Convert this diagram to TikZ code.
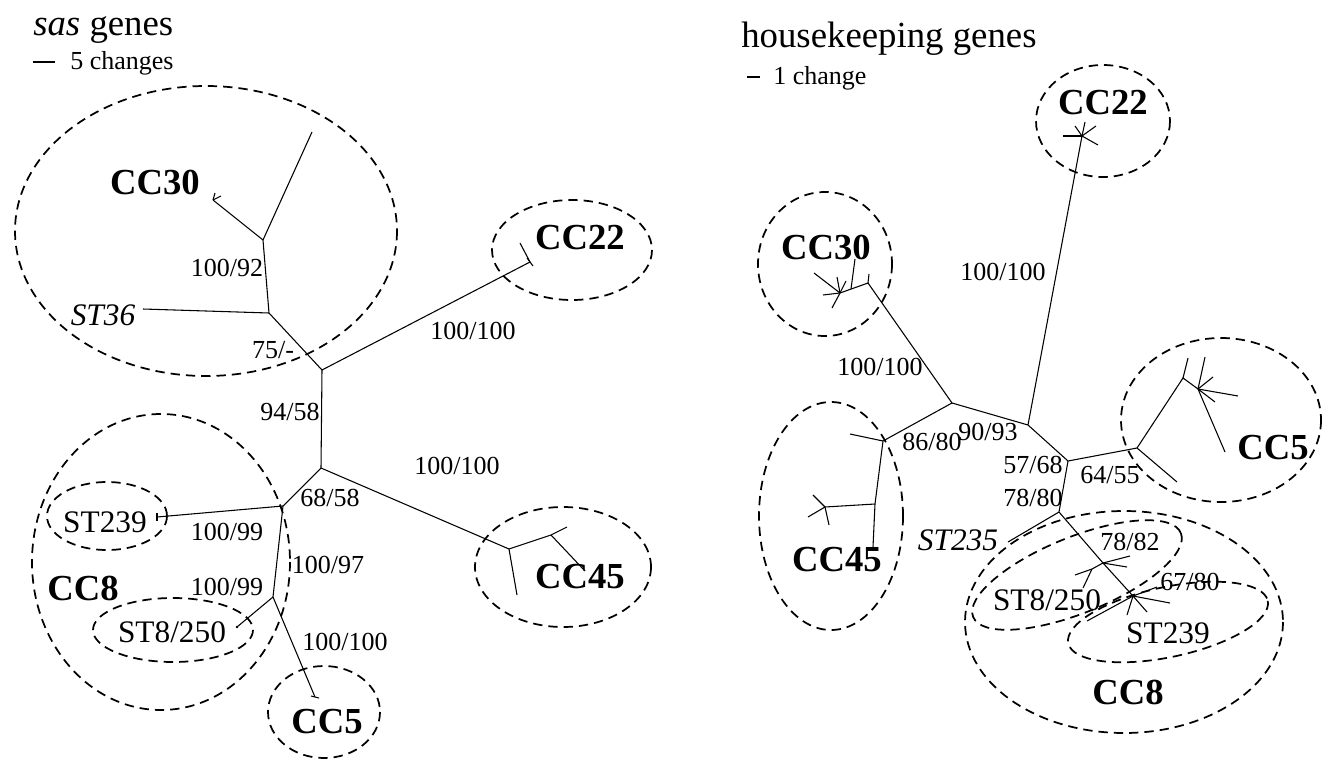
\documentclass[tikz,border=0pt]{standalone}
\usepackage{fontspec}
\setmainfont{Liberation Serif}
\begin{document}
\begin{tikzpicture}[x=0.75pt,y=-0.75pt,
  br/.style={line width=0.8pt},
  grp/.style={line width=1.3pt, dash pattern=on 7pt off 4.5pt},
  lab/.style={font=\fontsize{19.5}{19.5}\selectfont, inner sep=0},
  stl/.style={font=\fontsize{23.5}{23.5}\selectfont, inner sep=0},
  cc/.style={font=\fontsize{27.5}{27.5}\selectfont\bfseries, inner sep=0},
  ttl/.style={font=\fontsize{27.6}{27.6}\selectfont, inner sep=0, anchor=base west},
  sc/.style={font=\fontsize{19.5}{19.5}\selectfont, inner sep=0, anchor=base west}]
\useasboundingbox (0,0) rectangle (1324,760);

% ---------------- titles ----------------
\node[ttl] (t1) at (33,35) {\textit{sas} genes};
\coordinate (s1a) at (33,62); \coordinate (s1b) at (55,62);
\draw[line width=0.9pt] (s1a) -- (s1b);
\node[sc] (t1s) at (70,69) {5 changes};
\node[ttl] (t2) at (741,47) {housekeeping genes};
\coordinate (s2a) at (747,77); \coordinate (s2b) at (760,77);
\draw[line width=0.9pt] (s2a) -- (s2b);
\node[sc] (t2s) at (773,84) {1 change};

% ---------------- left tree ----------------
\coordinate (lC) at (322,370);
\coordinate (lB) at (269,313);
\coordinate (lA) at (263,240);
\coordinate (lA1) at (312,132);
\coordinate (l30) at (213,200);
\coordinate (l36) at (143,309);
\coordinate (l22) at (530,262);
\coordinate (l22t) at (520,243);
\coordinate (lD) at (321,468);
\coordinate (lE) at (283,506);
\coordinate (l239) at (157,517);
\coordinate (lF) at (273,597);
\coordinate (l8) at (237,627);
\coordinate (l5) at (315,697);
\coordinate (lG) at (509,549);
\coordinate (lG1) at (517,595);
\coordinate (lH) at (551,535);
\coordinate (lH1) at (567,527);
\coordinate (lH2) at (585,571);

\draw[br] (lA1) -- (lA) -- (lB) -- (lC) -- (l22) -- (l22t);
\draw[br] (lA) -- (l30);
\draw[br] (lB) -- (l36);
\draw[br] (lC) -- (lD) -- (lE) -- (lF) -- (l5);
\draw[br] (lE) -- (l239);
\draw[br] (lF) -- (l8);
\draw[br] (lD) -- (lG) -- (lG1);
\draw[br] (lG) -- (lH) -- (lH1);
\draw[br] (lH) -- (lH2);
% tiny tips
\draw[br] (l30) -- ++(2,-7);
\draw[br] (l30) -- ++(8,-4);
\draw[br] (l239) ++(0,-4) -- ++(0,8);
\draw[br] (l5) ++(-4,-1) -- ++(8,2);
\draw[br] (l22) ++(-3,-4) -- ++(6,8);
\fill (l8) circle (1.4);

% left groups
\draw[grp] (206,231) ellipse [x radius=191, y radius=145];
\draw[grp] (572,250) ellipse [x radius=80, y radius=50];
\draw[grp] (161,562) ellipse [x radius=129, y radius=148];
\draw[grp] (107,516) ellipse [x radius=60, y radius=34];
\draw[grp] (173,630) ellipse [x radius=80, y radius=32];
\draw[grp] (324,712) ellipse [x radius=56, y radius=46];
\draw[grp] (563,567) ellipse [x radius=88, y radius=60];

% left labels
\node[cc] (lcc30) at (155,182) {CC30};
\node[cc] (lcc22) at (580,238) {CC22};
\node[cc] (lcc8) at (83,588) {CC8};
\node[cc] (lcc5) at (327,722) {CC5};
\node[cc] (lcc45) at (580,577) {CC45};
\node[stl] (lst36) at (103,315) {\textit{ST36}};
\node[stl] (lst239) at (105,522) {ST239};
\node[stl] (lst8) at (172,632) {ST8/250};
\node[lab] (lb1) at (227,268) {100/92};
\node[lab] (lb2) at (273,350) {75/-};
\node[lab] (lb3) at (473,331) {100/100};
\node[lab] (lb4) at (290,412) {94/58};
\node[lab] (lb5) at (330,498) {68/58};
\node[lab] (lb6) at (457,466) {100/100};
\node[lab] (lb7) at (227,532) {100/99};
\node[lab] (lb8) at (328,565) {100/97};
\node[lab] (lb9) at (227,587) {100/99};
\node[lab] (lb10) at (345,642) {100/100};

% ---------------- right tree ----------------
\coordinate (rP) at (952,403);
\coordinate (r30j) at (868,283);
\coordinate (r30t) at (869,274);
\coordinate (r30s) at (840,293);
\coordinate (r30w) at (851,289);
\coordinate (r30w1) at (855,259);
\coordinate (rQ) at (883,441);
\coordinate (rQ1) at (850,434);
\coordinate (rR) at (875,504);
\coordinate (rR1) at (873,547);
\coordinate (r45s) at (825,507);
\coordinate (rS) at (1028,425);
\coordinate (r22s) at (1082,136);
\coordinate (rT) at (1068,461);
\coordinate (rU) at (1137,448);
\coordinate (rU1) at (1177,482);
\coordinate (rV) at (1183,378);
\coordinate (rV1) at (1188,358);
\coordinate (rW) at (1198,389);
\coordinate (rX) at (1059,512);
\coordinate (r235) at (1008,542);
\coordinate (rY) at (1103,563);
\coordinate (rZ) at (1092,569);
\coordinate (r8s) at (1133,596);

\draw[br] (r30s) -- (r30j) -- (rP) -- (rS) -- (r22s);
\draw[br] (r30j) -- (r30t);
\draw[br] (r30w) -- (r30w1);
\foreach \p in {(814,273),(823,295),(832,308),(837,277),(846,281)} \draw[br] (r30s) -- \p;
\draw[br] (rP) -- (rQ) -- (rR) -- (rR1);
\draw[br] (rQ) -- (rQ1);
\draw[br] (rR) -- (r45s);
\foreach \p in {(813,495),(808,517),(829,525)} \draw[br] (r45s) -- \p;
\foreach \p in {(1063,136),(1075,126),(1085,122),(1096,126),(1098,145)} \draw[br] (r22s) -- \p;
\draw[br] (rS) -- (rT) -- (rU) -- (rV) -- (rW);
\draw[br] (rU) -- (rU1);
\draw[br] (rV) -- (rV1);
\foreach \p in {(1205,357),(1213,377),(1238,396),(1215,402),(1225,452)} \draw[br] (rW) -- \p;
\draw[br] (rT) -- (rX) -- (rY) -- (r8s);
\draw[br] (rX) -- (r235);
\draw[br] (rY) -- (rZ);
\foreach \p in {(1130,556),(1127,567)} \draw[br] (rY) -- \p;
\foreach \p in {(1075,575),(1083,588)} \draw[br] (rZ) -- \p;
\foreach \p in {(1170,603),(1147,612),(1127,615),(1087,621),(1157,587)} \draw[br] (r8s) -- \p;

% right groups
\draw[grp] (825,264) ellipse [x radius=67, y radius=72];
\draw[grp] (1103,121) ellipse [x radius=67, y radius=56];
\draw[grp] (1221,420) ellipse [x radius=100, y radius=82];
\draw[grp] (831,516) ellipse [x radius=72, y radius=114];
\draw[grp] (1124,622) ellipse [x radius=159, y radius=111];
\draw[grp, rotate around={22:(1077,575)}] (1077,575) ellipse [x radius=112, y radius=38];
\draw[grp, rotate around={12:(1168,622)}] (1168,622) ellipse [x radius=102, y radius=35];

% right labels
\node[cc] (rcc30) at (826,247) {CC30};
\node[cc] (rcc22) at (1103,103) {CC22};
\node[cc] (rcc5) at (1273,448) {CC5};
\node[cc] (rcc45) at (837,560) {CC45};
\node[cc] (rcc8) at (1128,692) {CC8};
\node[stl] (rst235) at (958,540) {\textit{ST235}};
\node[stl] (rst8) at (1047,600) {ST8/250};
\node[stl] (rst239) at (1168,633) {ST239};
\node[lab] (rb1) at (880,367) {100/100};
\node[lab] (rb2) at (1003,272) {100/100};
\node[lab] (rb3) at (932,442) {86/80};
\node[lab] (rb4) at (988,432) {90/93};
\node[lab] (rb5) at (1033,465) {57/68};
\node[lab] (rb6) at (1033,498) {78/80};
\node[lab] (rb7) at (1110,475) {64/55};
\node[lab] (rb8) at (1130,542) {78/82};
\node[lab] (rb9) at (1190,582) {67/80};
\end{tikzpicture}
\end{document}
